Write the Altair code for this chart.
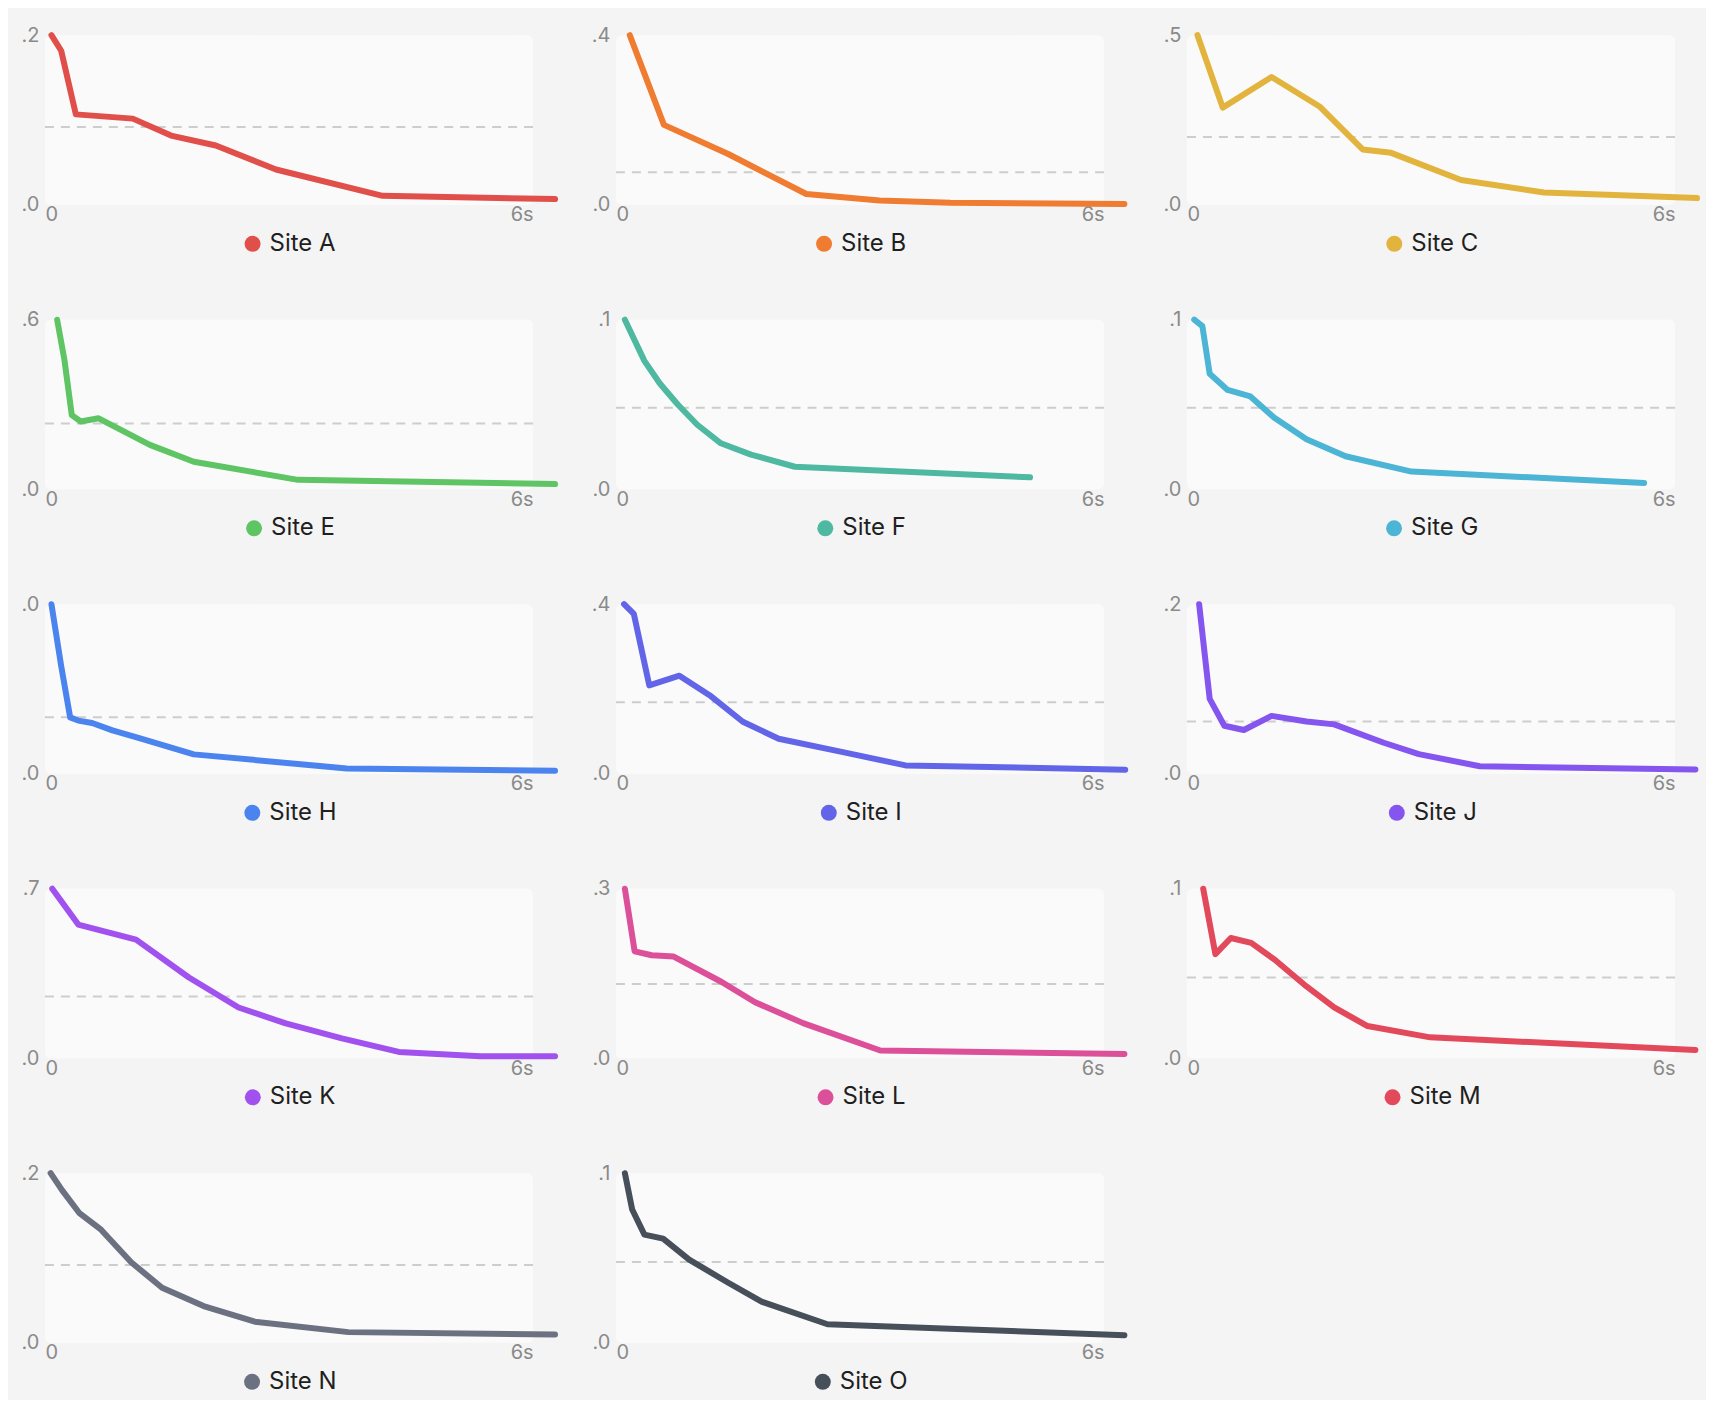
import altair as alt
import pandas as pd

sites = ["Site A", "Site B", "Site C", "Site E", "Site F", "Site G", "Site H",
         "Site I", "Site J", "Site K", "Site L", "Site M", "Site N", "Site O"]
colors = ["#e04f4a", "#ef7c31", "#e2b43e", "#5ec464", "#4fb8a0", "#4cb4d4", "#4b84ee",
          "#6265e8", "#8455ef", "#a152ee", "#dc4f99", "#e24a5b", "#6b7180", "#474f5a"]
y_max = [1.2, 1.4, 1.5, 1.6, 2.1, 2.1, 1.0, 1.4, 1.2, 1.7, 1.3, 2.1, 1.2, 2.1]
thresholds = [0.55, 0.27, 0.60, 0.62, 1.01, 1.01, 0.333, 0.59, 0.37, 0.62, 0.57, 1.0, 0.55, 1.0]

t_A = [0.08, 0.2, 0.38, 1.08, 1.55, 2.1, 2.84, 4.15, 6.27]
v_A = [1.2, 1.09, 0.64, 0.61, 0.49, 0.42, 0.25, 0.064, 0.041]
t_B = [0.17, 0.59, 1.38, 2.34, 3.24, 4.11, 6.25]
v_B = [1.4, 0.66, 0.42, 0.09, 0.036, 0.018, 0.008]
t_C = [0.13, 0.44, 1.04, 1.63, 2.16, 2.51, 3.37, 4.39, 6.27]
v_C = [1.5, 0.86, 1.13, 0.87, 0.49, 0.46, 0.22, 0.11, 0.06]
t_E = [0.15, 0.24, 0.33, 0.44, 0.66, 0.91, 1.29, 1.83, 3.11, 6.27]
v_E = [1.6, 1.22, 0.70, 0.64, 0.67, 0.57, 0.42, 0.26, 0.09, 0.05]
t_F = [0.11, 0.35, 0.54, 0.76, 1.0, 1.29, 1.66, 2.2, 5.09]
v_F = [2.1, 1.59, 1.31, 1.05, 0.80, 0.57, 0.43, 0.28, 0.15]
t_G = [0.09, 0.19, 0.28, 0.50, 0.78, 1.07, 1.47, 1.95, 2.76, 5.62]
v_G = [2.1, 2.02, 1.43, 1.23, 1.15, 0.89, 0.62, 0.41, 0.22, 0.08]
t_H = [0.08, 0.2, 0.31, 0.41, 0.58, 0.83, 1.16, 1.83, 3.71, 6.27]
v_H = [1.0, 0.635, 0.333, 0.314, 0.30, 0.256, 0.21, 0.115, 0.032, 0.019]
t_I = [0.10, 0.22, 0.41, 0.78, 1.17, 1.56, 2.0, 2.79, 3.56, 6.26]
v_I = [1.4, 1.32, 0.73, 0.81, 0.64, 0.43, 0.29, 0.18, 0.07, 0.035]
t_J = [0.15, 0.28, 0.46, 0.70, 1.04, 1.47, 1.81, 2.42, 2.85, 3.60, 6.25]
v_J = [1.2, 0.53, 0.34, 0.31, 0.41, 0.37, 0.35, 0.22, 0.14, 0.054, 0.031]
t_K = [0.09, 0.41, 1.12, 1.77, 2.38, 2.96, 3.65, 4.35, 5.35, 6.27]
v_K = [1.7, 1.34, 1.19, 0.81, 0.51, 0.35, 0.20, 0.065, 0.022, 0.022]
t_L = [0.11, 0.23, 0.44, 0.71, 1.3, 1.71, 2.3, 3.25, 6.25]
v_L = [1.3, 0.82, 0.79, 0.78, 0.585, 0.43, 0.27, 0.06, 0.034]
t_M = [0.2, 0.35, 0.54, 0.79, 1.08, 1.47, 1.81, 2.22, 2.99, 6.25]
v_M = [2.1, 1.29, 1.49, 1.43, 1.22, 0.89, 0.63, 0.40, 0.26, 0.105]
t_N = [0.07, 0.21, 0.42, 0.69, 1.06, 1.44, 1.95, 2.58, 3.73, 6.27]
v_N = [1.2, 1.08, 0.92, 0.80, 0.57, 0.39, 0.26, 0.15, 0.076, 0.059]
t_O = [0.11, 0.2, 0.35, 0.58, 0.9, 1.37, 1.79, 2.6, 6.25]
v_O = [2.1, 1.65, 1.34, 1.29, 1.03, 0.75, 0.51, 0.23, 0.095]

times = [t_A, t_B, t_C, t_E, t_F, t_G, t_H, t_I, t_J, t_K, t_L, t_M, t_N, t_O]
values = [v_A, v_B, v_C, v_E, v_F, v_G, v_H, v_I, v_J, v_K, v_L, v_M, v_N, v_O]

# approximate rendered width (px, 24px Inter) of the last letter of each legend label (layout only)
letter_w = {"A": 17, "B": 16, "C": 17.5, "E": 14, "F": 13.5, "G": 18, "H": 17.5,
            "I": 6.5, "J": 12.5, "K": 16.5, "L": 13, "M": 21, "N": 18, "O": 18.5}

W, H = 489, 170
LEG_FONT = 24


def panel(name, color, ymax, thr, ts, vs):
    df = pd.DataFrame({"t": ts, "v": vs, "site": name})
    x = alt.X("t:Q", title=None,
              scale=alt.Scale(domain=[0, 6], nice=False, zero=False),
              axis=alt.Axis(values=[0, 6], labelFlush=True,
                            labelExpr="datum.value == 0 ? '0' : datum.value + 's'"))
    y = alt.Y("v:Q", title=None,
              scale=alt.Scale(domain=[0, ymax], nice=False),
              axis=alt.Axis(values=[0, ymax], format=".1f",
                            labelExpr="substring(datum.label, length(datum.label) - 2)"))
    rule = alt.Chart(pd.DataFrame({"v": [thr]})).mark_rule(
        color="#cdcdcd", strokeWidth=2, strokeDash=[9, 7]
    ).encode(y=y)
    line = alt.Chart(df).mark_line(
        color=color, strokeWidth=6, strokeCap="round", strokeJoin="round"
    ).encode(x=x, y=y)
    tw = 51 + letter_w[name[-1]]
    lx = W / 2 - (16 + 5 + tw) / 2 - 4
    key = alt.Chart(df.head(1)).mark_point(filled=True, size=1, opacity=1).encode(
        x=x, y=y,
        color=alt.Color("site:N", scale=alt.Scale(domain=[name], range=[color]),
                        legend=alt.Legend(orient="none", legendX=lx, legendY=197,
                                          title=None, symbolType="circle",
                                          symbolSize=256, symbolStrokeWidth=0,
                                          symbolOpacity=1, labelFontSize=LEG_FONT,
                                          labelFont="Inter", labelColor="#1f1f1f",
                                          labelOffset=5, padding=0))
    )
    return alt.layer(rule, line, key).properties(width=W, height=H)


panels = [panel(sites[i], colors[i], y_max[i], thresholds[i], times[i], values[i])
          for i in range(len(sites))]

chart = alt.concat(*panels, columns=3, spacing={"row": 115, "column": 83},
                   bounds="flush").resolve_scale(
    color="independent", x="independent", y="independent"
).properties(
    padding={"left": 13, "top": 16, "right": 5, "bottom": 5}
).configure(
    background="#f4f4f4", font="Inter"
).configure_view(
    fill="#fafafa", stroke=None, cornerRadius=6
).configure_axis(
    grid=False, domain=False, ticks=False, labelFont="Inter", labelFontSize=20,
    labelColor="#8a8a8a"
).configure_axisY(labelPadding=6).configure_axisX(labelPadding=0)

chart.save("out.html", embed_options={"renderer": "svg", "actions": False})
